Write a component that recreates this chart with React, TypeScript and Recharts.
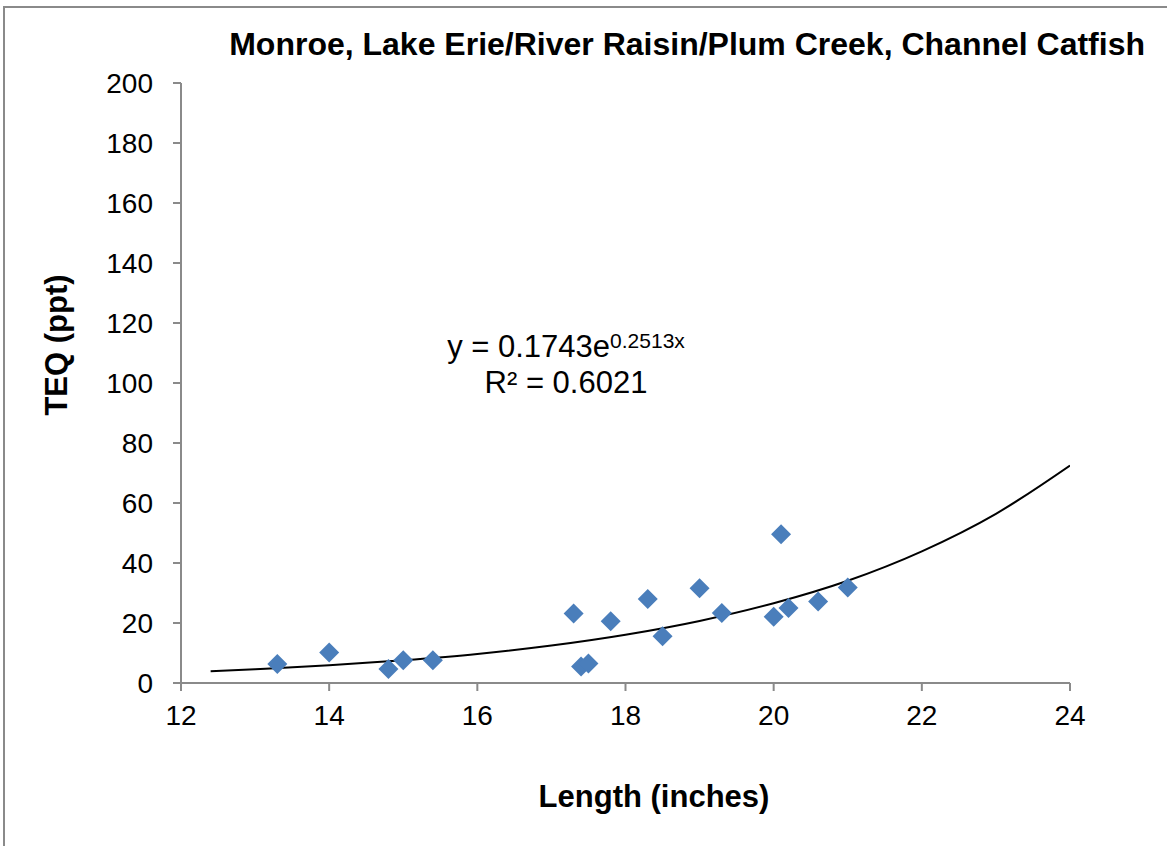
import React from 'react';
import {
  ComposedChart,
  Line,
  Scatter,
  XAxis,
  YAxis,
} from 'recharts';

const lengths = [13.3, 14.0, 14.8, 15.0, 15.4, 17.3, 17.4, 17.5, 17.8, 18.3, 18.5, 19.0, 19.3, 20.0, 20.1, 20.2, 20.6, 21.0];
const teq = [6.3, 10.2, 4.7, 7.6, 7.6, 23.2, 5.5, 6.5, 20.6, 28.0, 15.6, 31.6, 23.3, 22.1, 49.6, 25.0, 27.2, 31.8];

// exponential trendline
const trendX = [12.4, 13, 14, 15, 16, 17, 18, 19, 20, 21, 22, 23, 24];
const trendY = [3.9, 4.6, 5.9, 7.6, 9.7, 12.5, 16.1, 20.7, 26.6, 34.1, 43.9, 56.4, 72.5];

const xTicks = [12, 14, 16, 18, 20, 22, 24];
const yTicks = [0, 20, 40, 60, 80, 100, 120, 140, 160, 180, 200];

const points = lengths.map((x, i) => ({ x, y: teq[i] }));
const trend = trendX.map((x, i) => ({ x, y: trendY[i] }));

const FONT = '"Liberation Sans", Arial, sans-serif';
const AXIS = '#8a8a8a';
const BLUE = '#4a7ebb';

function Diamond({ cx, cy }: any) {
  if (cx == null || cy == null) return null;
  const r = 10;
  return (
    <polygon
      points={`${cx},${cy - r} ${cx + r},${cy} ${cx},${cy + r} ${cx - r},${cy}`}
      fill={BLUE}
    />
  );
}

export default function App() {
  return (
    <div style={{ position: 'absolute', left: 0, top: 0, width: 1167, height: 846, background: '#fff', fontFamily: FONT }}>
      <div
        style={{
          position: 'absolute',
          left: 3,
          top: 6,
          width: 1164,
          height: 840,
          borderTop: `2px solid ${AXIS}`,
          borderLeft: `2px solid ${AXIS}`,
          boxSizing: 'border-box',
        }}
      />
      <ComposedChart
        width={1167}
        height={846}
        margin={{ top: 83, right: 97, bottom: 103, left: 81 }}
        style={{ position: 'absolute', left: 0, top: 0 }}
      >
        <XAxis
          type="number"
          dataKey="x"
          domain={[12, 24]}
          ticks={xTicks}
          height={60}
          stroke={AXIS}
          strokeWidth={2}
          tickSize={8}
          tickMargin={14}
          tick={{ fontSize: 28, fill: '#000', fontFamily: FONT }}
          allowDataOverflow
        />
        <YAxis
          type="number"
          dataKey="y"
          domain={[0, 200]}
          ticks={yTicks}
          width={100}
          stroke={AXIS}
          strokeWidth={2}
          tickSize={8}
          tickMargin={20}
          tick={{ fontSize: 28, fill: '#000', fontFamily: FONT }}
        />
        <Line
          data={trend}
          dataKey="y"
          type="monotone"
          stroke="#000"
          strokeWidth={2}
          dot={false}
          activeDot={false}
          isAnimationActive={false}
        />
        <Scatter data={points} dataKey="y" shape={<Diamond />} isAnimationActive={false} />
      </ComposedChart>
      <svg width={1167} height={846} style={{ position: 'absolute', left: 0, top: 0, pointerEvents: 'none' }}>
        <text x={1145} y={55} textAnchor="end" fontSize={32} fontWeight="bold" fontFamily={FONT} fill="#000">
          Monroe, Lake Erie/River Raisin/Plum Creek, Channel Catfish
        </text>
        <text
          x={67}
          y={345}
          transform="rotate(-90 67 345)"
          textAnchor="middle"
          fontSize={31}
          fontWeight="bold"
          fontFamily={FONT}
          fill="#000"
        >
          TEQ (ppt)
        </text>
        <text x={654} y={807} textAnchor="middle" fontSize={31} fontWeight="bold" fontFamily={FONT} fill="#000">
          Length (inches)
        </text>
        <text x={566} y={357} textAnchor="middle" fontSize={31} fontFamily={FONT} fill="#000">
          y = 0.1743e<tspan fontSize={21} dy={-9}>0.2513x</tspan>
        </text>
        <text x={566} y={393} textAnchor="middle" fontSize={31} fontFamily={FONT} fill="#000">
          R² = 0.6021
        </text>
      </svg>
    </div>
  );
}
